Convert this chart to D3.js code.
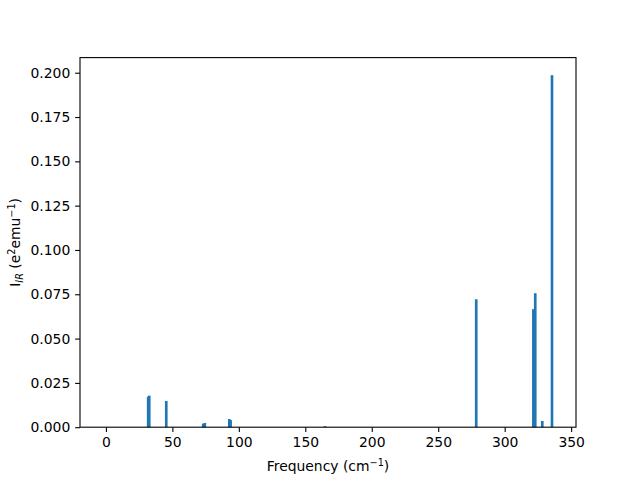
<!DOCTYPE html>
<html><head><meta charset="utf-8">
<script src="https://cdn.jsdelivr.net/npm/d3@7"></script>
<style>body{margin:0;background:#fff}svg{display:block}text{font-family:"DejaVu Sans",sans-serif}</style>
</head><body>
<script>
const frequencies = [31.8, 32.6, 45.4, 73.2, 74.4, 92.8, 93.8, 164.8, 278.6, 321.6, 323.0, 328.3, 335.6];
const intensities = [0.0172, 0.0178, 0.0148, 0.0020, 0.0024, 0.0046, 0.0040, 0.0006, 0.0722, 0.0666, 0.0756, 0.0035, 0.1986];
const xTicks = [0, 50, 100, 150, 200, 250, 300, 350];
const yTicks = [0, 0.025, 0.05, 0.075, 0.1, 0.125, 0.15, 0.175, 0.2];
const barWidth = 2;

const W = 640, H = 480;
const m = {left: 80, right: 576, top: 57.6, bottom: 427.2};
const svg = d3.select("body").append("svg").attr("width", W).attr("height", H);

const dataMin = -2.54, dataMax = 336.7, pad = 0.05 * (dataMax - dataMin);
const x = d3.scaleLinear().domain([dataMin - pad, dataMax + pad]).range([m.left, m.right]);
const yMax = d3.max(intensities) * 1.05;
const y = d3.scaleLinear().domain([0, yMax]).range([m.bottom, m.top]);

const data = frequencies.map((f, i) => ({f, v: intensities[i]}));
svg.append("g").selectAll("rect").data(data).join("rect")
  .attr("x", d => x(d.f - barWidth / 2))
  .attr("width", d => x(d.f + barWidth / 2) - x(d.f - barWidth / 2))
  .attr("y", d => y(d.v))
  .attr("height", d => y(0) - y(d.v))
  .attr("fill", "#1f77b4");

const fs = "13.9px";
const xAxis = svg.append("g").attr("transform", `translate(0,${m.bottom})`)
  .call(d3.axisBottom(x).tickValues(xTicks).tickFormat(d3.format("d")).tickSize(4.86).tickPadding(4.86));
const yAxis = svg.append("g").attr("transform", `translate(${m.left},0)`)
  .call(d3.axisLeft(y).tickValues(yTicks).tickFormat(d3.format(".3f")).tickSize(4.86).tickPadding(4.86));
[xAxis, yAxis].forEach(g => {
  g.select(".domain").remove();
  g.selectAll("line").attr("stroke", "#000").attr("stroke-width", 1.1);
  g.selectAll("text").attr("font-size", fs).attr("font-family", "DejaVu Sans").attr("fill", "#000");
});

svg.append("rect").attr("x", m.left).attr("y", m.top)
  .attr("width", m.right - m.left).attr("height", m.bottom - m.top)
  .attr("fill", "none").attr("stroke", "#000").attr("stroke-width", 1.1);

const xl = svg.append("text").attr("x", (m.left + m.right) / 2).attr("y", 471)
  .attr("text-anchor", "middle").attr("font-size", fs);
xl.append("tspan").text("Frequency (cm");
xl.append("tspan").attr("dy", -5).attr("font-size", "9.7px").text("−1");
xl.append("tspan").attr("dy", 5).text(")");

const yl = svg.append("text").attr("transform", `translate(20,${(m.top + m.bottom) / 2}) rotate(-90)`)
  .attr("text-anchor", "middle").attr("font-size", fs);
yl.append("tspan").text("I");
yl.append("tspan").attr("dy", 3).attr("font-size", "9.7px").attr("font-style", "italic").text("IR");
yl.append("tspan").attr("dy", -3).text(" (e");
yl.append("tspan").attr("dy", -5).attr("font-size", "9.7px").text("2");
yl.append("tspan").attr("dy", 5).text("emu");
yl.append("tspan").attr("dy", -5).attr("font-size", "9.7px").text("−1");
yl.append("tspan").attr("dy", 5).text(")");
</script>
</body></html>
